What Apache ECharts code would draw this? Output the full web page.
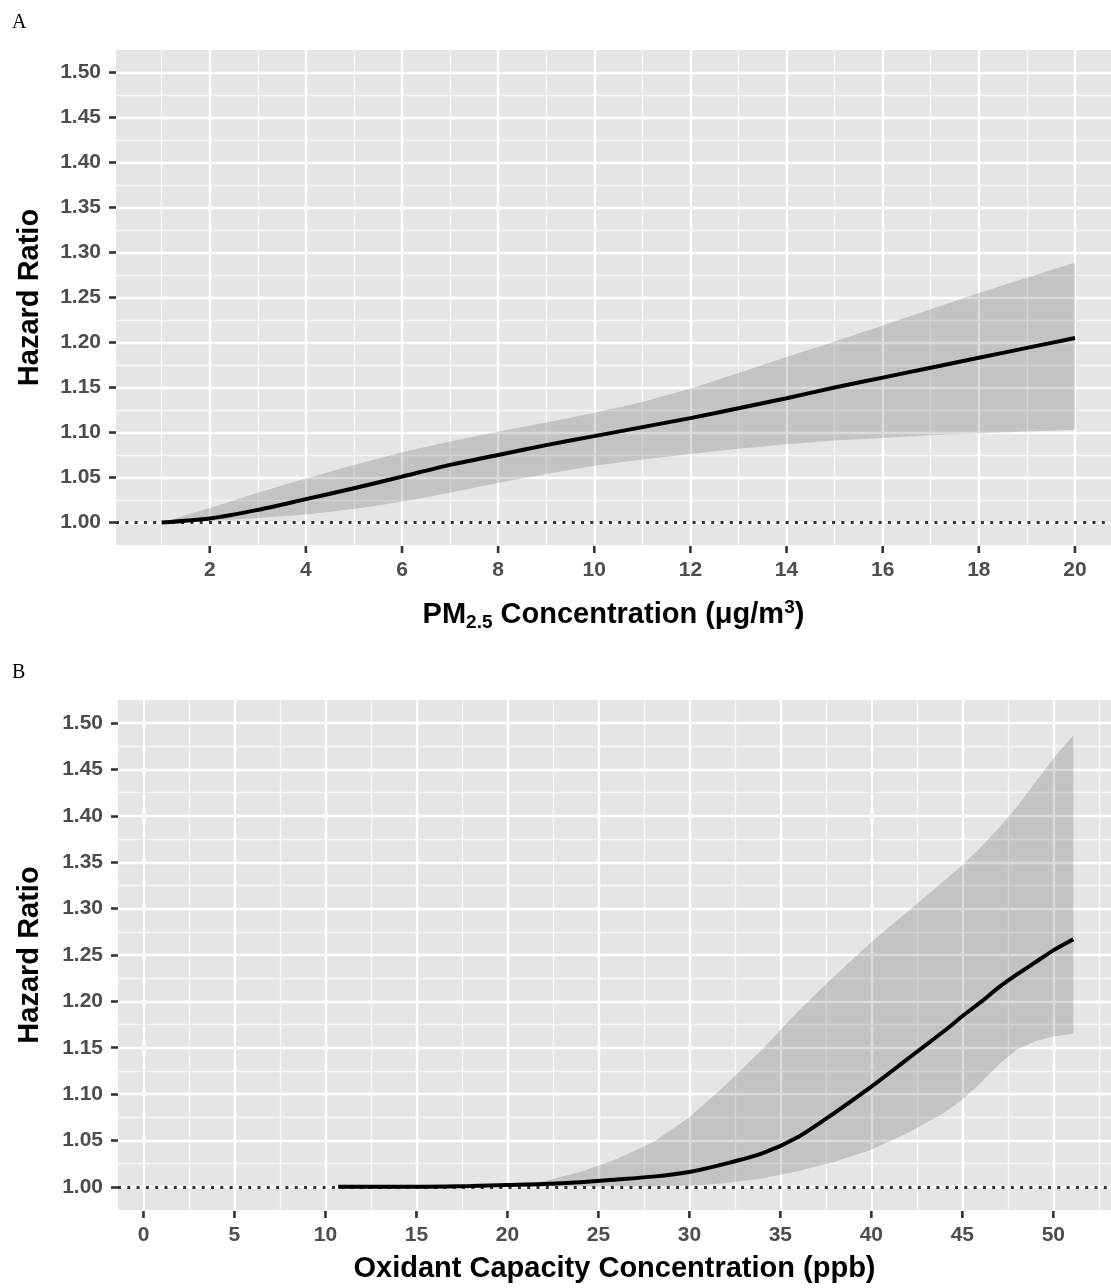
<!DOCTYPE html>
<html>
<head>
<meta charset="utf-8">
<script src="https://cdn.jsdelivr.net/npm/echarts@6/dist/echarts.min.js"></script>
<style>
  html, body { margin: 0; padding: 0; background: #fff; }
  #chart { width: 1111px; height: 1288px; }
</style>
</head>
<body>
<div id="chart"></div>
<script>
// panel A: PM2.5
const xA = [1, 2, 3, 4, 5, 6, 7, 8, 9, 10, 11, 12, 13, 14, 15, 16, 17, 18, 19, 20];
const hrA = [1.000, 1.0045, 1.014, 1.026, 1.038, 1.051, 1.064, 1.075, 1.086, 1.096, 1.106, 1.116, 1.127, 1.138, 1.150, 1.161, 1.172, 1.183, 1.194, 1.205];
const hiA = [1.000, 1.016, 1.033, 1.049, 1.064, 1.078, 1.090, 1.101, 1.111, 1.122, 1.134, 1.149, 1.166, 1.184, 1.201, 1.219, 1.237, 1.255, 1.272, 1.289];
const loA = [1.000, 1.002, 1.005, 1.009, 1.015, 1.023, 1.033, 1.044, 1.054, 1.063, 1.070, 1.076, 1.082, 1.087, 1.091, 1.094, 1.097, 1.099, 1.101, 1.103];

// panel B: oxidant capacity
const xB = [10.7, 14, 18, 20, 22, 24, 26, 28, 30, 32, 34, 36, 38, 40, 42, 44, 45, 46, 47, 48, 49, 50, 51.1];
const hrB = [1.000, 1.000, 1.001, 1.002, 1.003, 1.005, 1.008, 1.011, 1.016, 1.025, 1.036, 1.054, 1.080, 1.108, 1.138, 1.168, 1.184, 1.199, 1.215, 1.229, 1.242, 1.255, 1.267];
const hiB = [1.000, 1.000, 1.000, 1.002, 1.006, 1.016, 1.030, 1.048, 1.075, 1.110, 1.148, 1.190, 1.228, 1.264, 1.297, 1.330, 1.347, 1.366, 1.387, 1.410, 1.436, 1.462, 1.487];
const loB = [1.000, 1.000, 1.000, 1.000, 1.000, 1.000, 1.000, 1.000, 1.001, 1.004, 1.009, 1.017, 1.027, 1.040, 1.058, 1.080, 1.094, 1.112, 1.132, 1.148, 1.157, 1.162, 1.165];

// tick labels and grid breaks
const yTicks = [1.00, 1.05, 1.10, 1.15, 1.20, 1.25, 1.30, 1.35, 1.40, 1.45, 1.50];
const yMinor = [1.025, 1.075, 1.125, 1.175, 1.225, 1.275, 1.325, 1.375, 1.425, 1.475];
const xTicksA = [2, 4, 6, 8, 10, 12, 14, 16, 18, 20];
const xMinorA = [1, 3, 5, 7, 9, 11, 13, 15, 17, 19];
const xTicksB = [0, 5, 10, 15, 20, 25, 30, 35, 40, 45, 50];
const xMinorB = [2.5, 7.5, 12.5, 17.5, 22.5, 27.5, 32.5, 37.5, 42.5, 47.5, 52.5];

const FONT = '"Liberation Sans", Arial, sans-serif';
const panelBg = "#e5e5e5";
const bandColor = "rgba(0,0,0,0.145)";
const Y_MIN = 0.975, Y_MAX = 1.525;

const zip = (xs, ys) => xs.map((x, i) => [x, ys[i]]);

function mainX(grid, min, max, ticks, nameGap, name, rich) {
  return {
    type: "value", gridIndex: grid, min: min, max: max, position: "bottom", z: 1,
    name: name, nameLocation: "middle", nameGap: nameGap,
    nameTextStyle: rich ? { rich: rich } : {
      fontFamily: FONT, fontWeight: "bold", fontSize: 29, color: "#000", lineHeight: 34,
    },
    axisLine: { show: false, onZero: false },
    axisTick: { show: false, customValues: ticks },
    axisLabel: {
      show: true, customValues: ticks, margin: 15,
      fontFamily: FONT, fontWeight: "bold", fontSize: 21, color: "#4d4d4d",
    },
    splitLine: { show: true, lineStyle: { color: "#ffffff", width: 2.4 } },
  };
}
function minorX(grid, min, max, ticks) {
  return {
    type: "value", gridIndex: grid, min: min, max: max, z: 0,
    axisLine: { show: false, onZero: false },
    axisTick: { show: false, customValues: ticks },
    axisLabel: { show: false },
    splitLine: { show: true, lineStyle: { color: "#f6f6f6", width: 1.3 } },
  };
}
function mainY(grid, nameGap) {
  return {
    type: "value", gridIndex: grid, min: Y_MIN, max: Y_MAX, position: "left", z: 1,
    name: "Hazard Ratio", nameLocation: "middle", nameGap: nameGap,
    nameTextStyle: { fontFamily: FONT, fontWeight: "bold", fontSize: 29, color: "#000", lineHeight: 34 },
    axisLine: { show: false, onZero: false },
    axisTick: { show: true, length: 7, customValues: yTicks, lineStyle: { color: "#333", width: 2.6 } },
    axisLabel: {
      show: true, customValues: yTicks, margin: 15,
      fontFamily: FONT, fontWeight: "bold", fontSize: 21, color: "#4d4d4d",
      formatter: (v) => v.toFixed(2),
    },
    splitLine: { show: true, lineStyle: { color: "#ffffff", width: 2.4 } },
  };
}
function minorY(grid) {
  return {
    type: "value", gridIndex: grid, min: Y_MIN, max: Y_MAX, z: 0,
    axisLine: { show: false, onZero: false },
    axisTick: { show: false, customValues: yMinor },
    axisLabel: { show: false },
    splitLine: { show: true, lineStyle: { color: "#f6f6f6", width: 1.3 } },
  };
}

// confidence band: one polygon, upper edge forward then lower edge back
function bandSeries(xi, yi, xs, lo, hi) {
  return {
    type: "custom", xAxisIndex: xi, yAxisIndex: yi, z: 2, silent: true,
    data: xs.map((x, i) => [x, lo[i], hi[i]]),
    encode: { x: 0, y: [1, 2] },
    renderItem: function (params, api) {
      if (params.dataIndex !== 0) return null;
      const pts = [];
      for (let i = 0; i < xs.length; i++) pts.push(api.coord([xs[i], hi[i]]));
      for (let i = xs.length - 1; i >= 0; i--) pts.push(api.coord([xs[i], lo[i]]));
      return { type: "polygon", shape: { points: pts }, style: { fill: bandColor } };
    },
  };
}
function lineSeries(xi, yi, xs, hr) {
  return {
    type: "line", xAxisIndex: xi, yAxisIndex: yi, z: 3,
    data: zip(xs, hr), symbol: "none", smooth: 0.25,
    lineStyle: { color: "#000", width: 4 },
    markLine: {
      silent: true, z: 2, symbol: ["none", "none"], label: { show: false },
      lineStyle: { type: [3, 6.3], color: "#333", width: 3 },
      data: [{ yAxis: 1 }],
    },
  };
}
// x tick marks: short rects hanging below the panel, on their own layer
function tickSeries(xi, yi, ticks) {
  return {
    type: "custom", xAxisIndex: xi, yAxisIndex: yi, zlevel: 1, z: 10,
    silent: true, clip: false,
    data: ticks.map((v) => [v, Y_MIN]),
    encode: { x: 0, y: 1 },
    renderItem: function (params, api) {
      const p = api.coord([api.value(0), api.value(1)]);
      return {
        type: "rect",
        shape: { x: p[0] - 1.3, y: p[1] + 1, width: 2.6, height: 7 },
        style: { fill: "#333" },
      };
    },
  };
}

const chart = echarts.init(document.getElementById("chart"), null, { renderer: "canvas" });
chart.setOption({
  animation: false,
  backgroundColor: "#ffffff",
  grid: [
    { left: 116, right: 0, top: 50, height: 495, show: true, backgroundColor: panelBg, borderWidth: 0, containLabel: false, outerBoundsMode: "none" },
    { left: 118, right: 0, top: 700, height: 510, show: true, backgroundColor: panelBg, borderWidth: 0, containLabel: false, outerBoundsMode: "none" },
  ],
  xAxis: [
    mainX(0, 0.05, 20.75, xTicksA, 53, "{a|PM}{s|2.5}{a| Concentration (μg/m}{p|3}{a|)}", {
      a: { fontFamily: FONT, fontWeight: "bold", fontSize: 29, color: "#000", lineHeight: 34 },
      s: { fontFamily: FONT, fontWeight: "bold", fontSize: 19, color: "#000", lineHeight: 19, verticalAlign: "bottom" },
      p: { fontFamily: FONT, fontWeight: "bold", fontSize: 19, color: "#000", lineHeight: 19, verticalAlign: "top" },
    }),
    minorX(0, 0.05, 20.75, xMinorA),
    mainX(1, -1.4, 53.17, xTicksB, 42, "Oxidant Capacity Concentration (ppb)", null),
    minorX(1, -1.4, 53.17, xMinorB),
  ],
  yAxis: [mainY(0, 69), minorY(0), mainY(1, 71), minorY(1)],
  graphic: [
    { type: "text", left: 12, top: 13, style: { text: "A", font: '20px "Liberation Serif", serif', fill: "#000" } },
    { type: "text", left: 12, top: 663, style: { text: "B", font: '20px "Liberation Serif", serif', fill: "#000" } },
  ],
  series: [
    bandSeries(0, 0, xA, loA, hiA),
    lineSeries(0, 0, xA, hrA),
    tickSeries(0, 0, xTicksA),
    bandSeries(2, 2, xB, loB, hiB),
    lineSeries(2, 2, xB, hrB),
    tickSeries(2, 2, xTicksB),
  ],
});
</script>
</body>
</html>
